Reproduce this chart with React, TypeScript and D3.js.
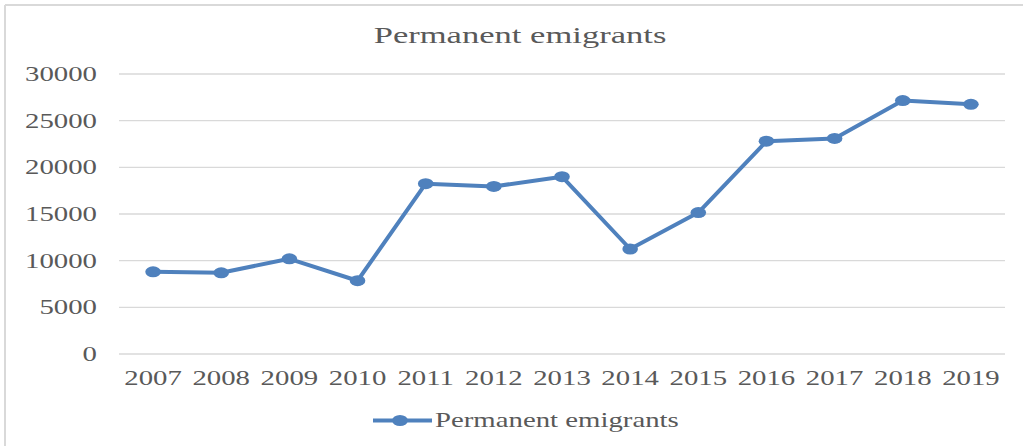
import React from "react";
import * as d3 from "d3";

const years = ["2007","2008","2009","2010","2011","2012","2013","2014","2015","2016","2017","2018","2019"];
const emigrants = [8800, 8700, 10200, 7850, 18250, 17950, 19000, 11250, 15150, 22800, 23100, 27150, 26750];
const yTicks = [0, 5000, 10000, 15000, 20000, 25000, 30000];
const title = "Permanent emigrants";
const seriesName = "Permanent emigrants";

const W = 1023, H = 446;
const SX = 1.44; // horizontal stretch of the source image
const TEXT = "#595959";
const LINE = "#4F81BD";
const GRID = "#D9D9D9";
const FONT = "'Liberation Serif', 'Times New Roman', serif";

export default function App() {
  const x = d3.scaleBand<string>().domain(years).range([119, 1005]);
  const y = d3.scaleLinear().domain([0, 30000]).range([354, 74]);
  const cx = (d: string) => (x(d) as number) + x.bandwidth() / 2;
  const line = d3.line<number>().x((_, i) => cx(years[i])).y((d) => y(d));

  const stretchedText = (tx: number, ty: number, anchor: string, size: number, s: string, key?: string) => (
    <text key={key} transform={`translate(${tx},${ty}) scale(${SX},1)`} textAnchor={anchor as any}
      fontFamily={FONT} fontSize={size} fill={TEXT}>{s}</text>
  );

  return (
    <svg width={W} height={H} style={{ position: "absolute", left: 0, top: 0, background: "#fff" }}>
      <rect x={0} y={0} width={W} height={H} fill="#fff" />
      {/* outer chart border */}
      <line x1={5} x2={W} y1={5} y2={5} stroke={GRID} strokeWidth={2} />
      <line x1={5} x2={5} y1={5} y2={H} stroke={GRID} strokeWidth={2} />

      {stretchedText(520, 43, "middle", 24, title)}

      {yTicks.map((t) => (
        <g key={t}>
          <line x1={119} x2={1005} y1={y(t)} y2={y(t)} stroke={GRID} strokeWidth={1.3} />
          {stretchedText(97, y(t) + 7, "end", 20, String(t))}
        </g>
      ))}

      {years.map((yr) => stretchedText(cx(yr), 385, "middle", 20, yr, yr))}

      <path d={line(emigrants) || ""} fill="none" stroke={LINE} strokeWidth={4} strokeLinejoin="round" />
      {emigrants.map((v, i) => (
        <ellipse key={i} cx={cx(years[i])} cy={y(v)} rx={7.8} ry={5.5} fill={LINE} />
      ))}

      {/* legend */}
      <line x1={373} x2={432} y1={420.5} y2={420.5} stroke={LINE} strokeWidth={4} />
      <ellipse cx={400} cy={420.5} rx={7.8} ry={5.5} fill={LINE} />
      {stretchedText(435, 427, "start", 20, seriesName)}
    </svg>
  );
}
